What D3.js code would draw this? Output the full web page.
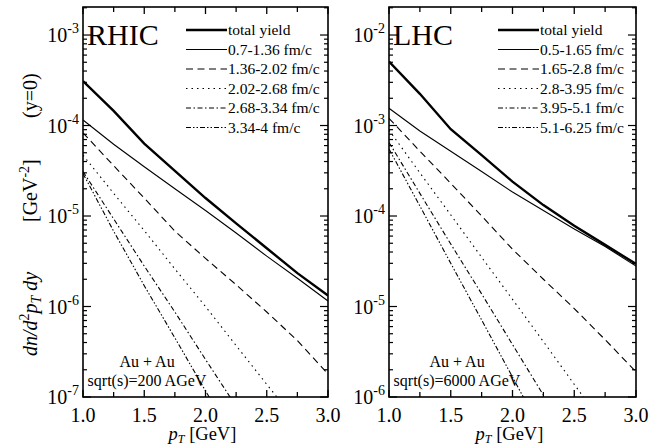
<!DOCTYPE html>
<html>
<head>
<meta charset="utf-8">
<script src="https://cdn.jsdelivr.net/npm/d3@7"></script>
<style>
  body { margin: 0; background: #fff; }
  svg text { font-family: "Liberation Serif", "DejaVu Serif", serif; fill: #000; }
</style>
</head>
<body>
<script>
// transverse momentum grid (GeV)
var pT = [1.0, 1.25, 1.5, 1.75, 2.0, 2.25, 2.5, 2.75, 3.0];

// RHIC yields
var rhicTotal = [3.09e-4, 1.45e-4, 6.3e-5, 3.16e-5, 1.58e-5, 8.3e-6, 4.4e-6, 2.34e-6, 1.32e-6];
var rhicT1 = [1.15e-4, 6.2e-5, 3.5e-5, 2.0e-5, 1.15e-5, 6.5e-6, 3.6e-6, 2.05e-6, 1.15e-6];
var rhicT2 = [8.3e-5, 3.6e-5, 1.58e-5, 6.8e-6, 3.4e-6, 1.74e-6, 8.7e-7, 4.2e-7, 1.8e-7];
var rhicT3 = [4.7e-5, 1.78e-5, 6.9e-6, 2.6e-6, 1.0e-6, 3.7e-7, 1.38e-7, 5.2e-8];
var rhicT4 = [3.1e-5, 9.3e-6, 2.8e-6, 8.7e-7, 2.6e-7, 7.9e-8];
var rhicT5 = [2.95e-5, 6.8e-6, 1.7e-6, 4.5e-7, 1.17e-7, 3.2e-8];
var rhicLabels = ["total yield", "0.7-1.36 fm/c", "1.36-2.02 fm/c", "2.02-2.68 fm/c", "2.68-3.34 fm/c", "3.34-4 fm/c"];

// LHC yields
var lhcTotal = [5.1e-3, 2.24e-3, 9.1e-4, 4.7e-4, 2.4e-4, 1.32e-4, 7.8e-5, 4.8e-5, 2.95e-5];
var lhcT1 = [1.55e-3, 8.7e-4, 5.2e-4, 3.1e-4, 1.84e-4, 1.15e-4, 7.2e-5, 4.6e-5, 2.8e-5];
var lhcT2 = [1.2e-3, 5.2e-4, 2.3e-4, 1.0e-4, 4.3e-5, 2.0e-5, 9.5e-6, 4.3e-6, 1.9e-6];
var lhcT3 = [8.9e-4, 3.0e-4, 1.03e-4, 3.5e-5, 1.2e-5, 4.1e-6, 1.38e-6, 4.7e-7];
var lhcT4 = [6.5e-4, 1.78e-4, 4.9e-5, 1.38e-5, 3.8e-6, 1.05e-6, 2.9e-7];
var lhcT5 = [5.5e-4, 1.29e-4, 3.0e-5, 7.1e-6, 1.66e-6, 3.9e-7];
var lhcLabels = ["total yield", "0.5-1.65 fm/c", "1.65-2.8 fm/c", "2.8-3.95 fm/c", "3.95-5.1 fm/c", "5.1-6.25 fm/c"];

var xTicks = [1.0, 1.5, 2.0, 2.5, 3.0];

// line styles: total, then the five time slices
var styles = [
  {w: 2.4, dash: null},
  {w: 1.1, dash: null},
  {w: 1.1, dash: "7,4.5"},
  {w: 1.1, dash: "1.5,4"},
  {w: 1.1, dash: "5,2.5,1.5,2.5"},
  {w: 1.1, dash: "5,2,1.5,2,1.5,2"}
];

var svg = d3.select("body").append("svg")
  .attr("width", 672)
  .attr("height", 448)
  .attr("font-family", "Liberation Serif");

svg.append("rect").attr("width", 672).attr("height", 448).attr("fill", "#fff");

function drawPanel(p) {
  var g = svg.append("g");

  var x = d3.scaleLinear().domain([1, 3]).range([p.left, p.right]);
  var y = d3.scaleLog().domain(p.ydomain).range([p.bottom, p.top]);

  // clip region for curves
  g.append("clipPath").attr("id", p.id)
    .append("rect")
    .attr("x", p.left).attr("y", p.top)
    .attr("width", p.right - p.left).attr("height", p.bottom - p.top);

  var line = d3.line()
    .x(function(d) { return x(d[0]); })
    .y(function(d) { return y(d[1]); });

  p.series.forEach(function(s, i) {
    var pts = s.map(function(v, j) { return [pT[j], v]; });
    g.append("path")
      .attr("clip-path", "url(#" + p.id + ")")
      .attr("d", line(pts))
      .attr("fill", "none")
      .attr("stroke", "#000")
      .attr("stroke-width", styles[i].w)
      .attr("stroke-dasharray", styles[i].dash);
  });

  // frame
  g.append("rect")
    .attr("x", p.left).attr("y", p.top)
    .attr("width", p.right - p.left).attr("height", p.bottom - p.top)
    .attr("fill", "none").attr("stroke", "#000").attr("stroke-width", 1.6);

  // x ticks, inward, bottom and top
  var xt = d3.range(1, 3.001, 0.25);
  xt.forEach(function(v) {
    var major = Math.abs(v * 2 - Math.round(v * 2)) < 1e-6;
    var len = major ? 7 : 5;
    g.append("line").attr("x1", x(v)).attr("x2", x(v))
      .attr("y1", p.bottom).attr("y2", p.bottom - len)
      .attr("stroke", "#000").attr("stroke-width", 1.3);
    g.append("line").attr("x1", x(v)).attr("x2", x(v))
      .attr("y1", p.top).attr("y2", p.top + len)
      .attr("stroke", "#000").attr("stroke-width", 1.3);
  });

  // y ticks (log), inward, left and right
  var lo = Math.round(Math.log10(p.ydomain[0]));
  for (var e = lo; e <= lo + 5; e++) {
    for (var m = 1; m <= 9; m++) {
      var v = m * Math.pow(10, e);
      if (v < p.ydomain[0] * 0.999 || v > p.ydomain[1]) continue;
      var len = m == 1 ? 8 : 4;
      g.append("line").attr("x1", p.left).attr("x2", p.left + len)
        .attr("y1", y(v)).attr("y2", y(v))
        .attr("stroke", "#000").attr("stroke-width", 1.2);
      g.append("line").attr("x1", p.right).attr("x2", p.right - len)
        .attr("y1", y(v)).attr("y2", y(v))
        .attr("stroke", "#000").attr("stroke-width", 1.2);
    }
    var dv = Math.pow(10, e);
    if (dv <= p.ydomain[1]) {
      var t = g.append("text")
        .attr("x", p.left - 4).attr("y", y(dv) + 7)
        .attr("text-anchor", "end")
        .style("font-size", "20px");
      t.append("tspan").text("10");
      t.append("tspan").attr("dy", -9).style("font-size", "14px").text(String(e));
    }
  }

  // x tick labels
  xTicks.forEach(function(v) {
    g.append("text")
      .attr("x", x(v)).attr("y", p.bottom + 25)
      .attr("text-anchor", "middle")
      .style("font-size", "20px")
      .text(v.toFixed(1));
  });

  // x axis title
  var xt2 = g.append("text")
    .attr("x", (p.left + p.right) / 2 - 3).attr("y", 440)
    .attr("text-anchor", "middle")
    .style("font-size", "18.5px");
  xt2.append("tspan").style("font-style", "italic").text("p");
  xt2.append("tspan").attr("dy", 3).style("font-size", "12px").style("font-style", "italic").text("T");
  xt2.append("tspan").attr("dy", -3).text(" [GeV]");

  // panel name
  g.append("text")
    .attr("x", p.left + 4).attr("y", 45)
    .style("font-size", "30px")
    .text(p.name);

  // legend
  p.labels.forEach(function(lab, i) {
    var ly = 30 + i * 19.5;
    g.append("line")
      .attr("x1", p.legX).attr("x2", p.legX + 41)
      .attr("y1", ly).attr("y2", ly)
      .attr("stroke", "#000")
      .attr("stroke-width", styles[i].w)
      .attr("stroke-dasharray", styles[i].dash);
    g.append("text")
      .attr("x", p.legX + 42).attr("y", ly + 5)
      .style("font-size", "15.5px")
      .text(lab);
  });

  // system annotation
  g.append("text")
    .attr("x", p.annX).attr("y", 367)
    .attr("text-anchor", "middle")
    .style("font-size", "16px")
    .text("Au + Au");
  g.append("text")
    .attr("x", p.annX).attr("y", 386)
    .attr("text-anchor", "middle")
    .style("font-size", "16px")
    .text(p.energy);
}

drawPanel({
  id: "clipL", name: "RHIC",
  left: 83, right: 328, top: 7, bottom: 397,
  ydomain: [1e-7, 2.04e-3],
  series: [rhicTotal, rhicT1, rhicT2, rhicT3, rhicT4, rhicT5],
  labels: rhicLabels, legX: 186,
  annX: 147, energy: "sqrt(s)=200 AGeV"
});

drawPanel({
  id: "clipR", name: "LHC",
  left: 389, right: 636, top: 7, bottom: 397,
  ydomain: [1e-6, 2.04e-2],
  series: [lhcTotal, lhcT1, lhcT2, lhcT3, lhcT4, lhcT5],
  labels: lhcLabels, legX: 498,
  annX: 457, energy: "sqrt(s)=6000 AGeV"
});

// y axis title, rotated
function yTitle(yPos, build) {
  var t = svg.append("text")
    .attr("transform", "translate(37," + yPos + ") rotate(-90)")
    .attr("text-anchor", "start")
    .style("font-size", "20px");
  build(t);
}

yTitle(356, function(t) {
  t.append("tspan").style("font-style", "italic").text("dn/d");
  t.append("tspan").attr("dy", -8).style("font-size", "14px").text("2");
  t.append("tspan").attr("dy", 8).style("font-style", "italic").text("p");
  t.append("tspan").attr("dy", 4).style("font-size", "14px").style("font-style", "italic").text("T");
  t.append("tspan").attr("dy", -4).style("font-style", "italic").text(" dy");
});
yTitle(222, function(t) {
  t.append("tspan").text("[GeV");
  t.append("tspan").attr("dy", -8).style("font-size", "14px").text("-2");
  t.append("tspan").attr("dy", 8).text("]");
});
yTitle(118, function(t) {
  t.append("tspan").text("(y=0)");
});
</script>
</body>
</html>
